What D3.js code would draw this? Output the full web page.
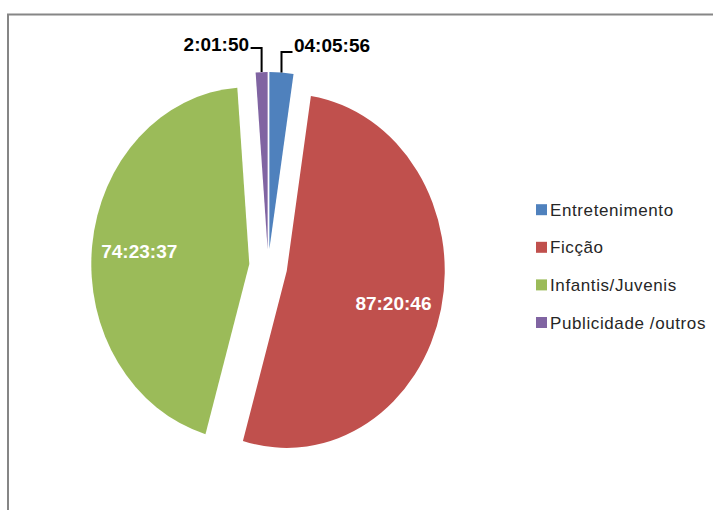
<!DOCTYPE html>
<html>
<head>
<meta charset="utf-8">
<script src="https://cdn.jsdelivr.net/npm/d3@7"></script>
<style>
  html, body { margin: 0; padding: 0; background: #fff; }
  svg { display: block; }
</style>
</head>
<body>
<script>
// ---- data ----
const categories = ["Entretenimento", "Ficção", "Infantis/Juvenis", "Publicidade /outros"];
const durations  = ["04:05:56", "87:20:46", "74:23:37", "2:01:50"];
const colors     = ["#4F81BD", "#C0504D", "#9BBB59", "#8064A2"];

// parse h:mm:ss into seconds (value of each slice)
const toSec = s => { const [h, m, sec] = s.split(":").map(Number); return h * 3600 + m * 60 + sec; };
const data = categories.map((c, i) => ({ cat: c, label: durations[i], v: toSec(durations[i]), color: colors[i] }));

// ---- layout / style ----
const W = 713, H = 510;
const cx = 268.2, cy = 266.3, r = 158, sy = 177 / 158;
const sliceOffset = [15.5, 19, 19, 15.5];
const font = "'Liberation Sans', Arial, sans-serif";

const svg = d3.select("body").append("svg").attr("width", W).attr("height", H);

// chart frame
svg.append("rect")
  .attr("x", 8).attr("y", 14.5).attr("width", 900).attr("height", 700)
  .attr("fill", "none").attr("stroke", "#868686").attr("stroke-width", 2);

const pie = d3.pie().sort(null).value(d => d.v).startAngle(0).endAngle(2 * Math.PI);
const arcs = pie(data);
const arc = d3.arc().innerRadius(0).outerRadius(r);
const total = d3.sum(data, d => d.v);

const g = svg.append("g").attr("transform", `translate(${cx},${cy}) scale(1,${sy})`);
g.selectAll("path").data(arcs).join("path")
  .attr("transform", d => {
    const m = (d.startAngle + d.endAngle) / 2, o = sliceOffset[d.index];
    return `translate(${o * Math.sin(m)},${-o * Math.cos(m)})`;
  })
  .attr("d", arc)
  .attr("fill", d => d.data.color);

// screen point at angle a, radius rad for slice d
function pt(d, a, rad) {
  const m = (d.startAngle + d.endAngle) / 2, o = sliceOffset[d.index];
  return [cx + o * Math.sin(m) + rad * Math.sin(a), cy - sy * (o * Math.cos(m) + rad * Math.cos(a))];
}

// labels
arcs.forEach(d => {
  const m = (d.startAngle + d.endAngle) / 2;
  if (d.data.v / total > 0.05) {
    const [x, y] = pt(d, m + (Math.sin(m) > 0 ? 0.05 : 0), 0.7 * r);
    svg.append("text")
      .attr("x", x).attr("y", y).attr("dy", "0.35em")
      .attr("text-anchor", "middle")
      .attr("font-family", font).attr("font-weight", "bold").attr("font-size", 19)
      .attr("fill", "#fff")
      .text(d.data.label);
  } else {
    const [ox, oy] = pt(d, m, r);
    const side = Math.sin(m) >= 0 ? 1 : -1;
    const lift = side < 0 ? 24 : 20.5;
    const ly = oy - lift;
    svg.append("path")
      .attr("d", `M${ox},${oy}V${ly}H${ox + side * 11}`)
      .attr("fill", "none").attr("stroke", "#000").attr("stroke-width", 2);
    svg.append("text")
      .attr("x", ox + side * 12.5).attr("y", ly + (side < 0 ? 3 : -0.5))
      .attr("text-anchor", side < 0 ? "end" : "start")
      .attr("font-family", font).attr("font-weight", "bold").attr("font-size", 19)
      .attr("fill", "#000")
      .text(d.data.label);
  }
});

// legend
const leg = svg.append("g");
data.forEach((d, i) => {
  const by = 215.7 + i * 37.6;
  leg.append("rect").attr("x", 536).attr("y", by - 11.5).attr("width", 11).attr("height", 11).attr("fill", d.color);
  leg.append("text")
    .attr("x", 550).attr("y", by)
    .attr("font-family", font).attr("font-size", 17).attr("letter-spacing", 0.6)
    .attr("fill", "#262626")
    .text(d.cat);
});
</script>
</body>
</html>
